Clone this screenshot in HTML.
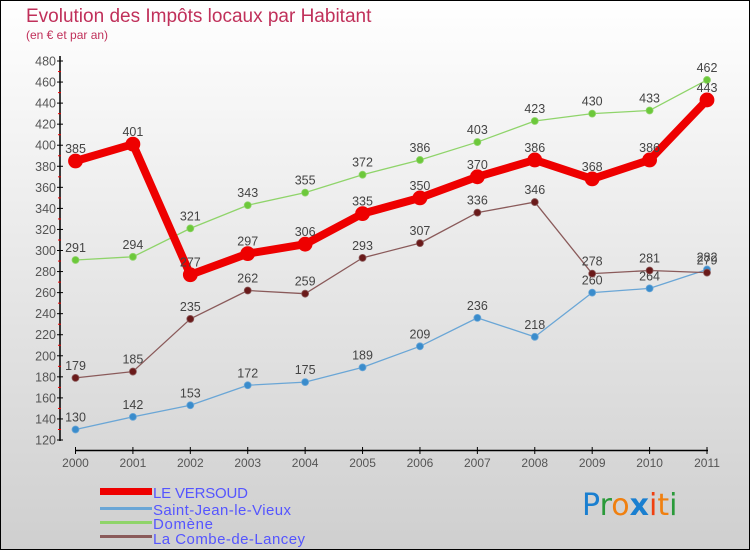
<!DOCTYPE html>
<html><head><meta charset="utf-8"><style>
body{margin:0}
svg{display:block;font-family:"Liberation Sans",sans-serif}
</style></head><body>
<svg id="c" width="750" height="550" xmlns="http://www.w3.org/2000/svg">
<defs><linearGradient id="bg" x1="0" y1="0" x2="0" y2="1"><stop offset="0" stop-color="#ffffff"/><stop offset="1" stop-color="#cfcfcf"/></linearGradient></defs>
<rect x="0.5" y="0.5" width="749" height="549" fill="url(#bg)" stroke="#000"/>
<text x="26" y="22" font-size="19" fill="#c0305a">Evolution des Impôts locaux par Habitant</text>
<text x="26" y="39" font-size="12" fill="#c0305a">(en € et par an)</text>
<g id="axes"></g>
<g id="series"></g>
<g id="legend" font-size="15" fill="#5555ff">
<rect x="100" y="488" width="52" height="7" fill="#ee0000"/>
<text x="153" y="498" fill="#5555ff" textLength="95">LE VERSOUD</text>
<rect x="100" y="507" width="52" height="3" fill="#6aa6d6"/>
<text x="153" y="515" fill="#5555ff" textLength="138">Saint-Jean-le-Vieux</text>
<rect x="100" y="521" width="52" height="3" fill="#8fd46a"/>
<text x="153" y="529" fill="#5555ff" textLength="60">Domène</text>
<rect x="100" y="535" width="52" height="3" fill="#8a5a5a"/>
<text x="153" y="544" fill="#5555ff" textLength="152">La Combe-de-Lancey</text>
</g>
<g font-size="30" font-family="'DejaVu Sans',sans-serif">
<text x="582" y="515"><tspan fill="#1a7fd0">P</tspan><tspan fill="#2a9a3a">r</tspan><tspan fill="#f08010">o</tspan><tspan fill="#1a7fd0" font-weight="bold">x</tspan><tspan fill="#f04010">i</tspan><tspan fill="#f08010">t</tspan><tspan fill="#2a9a3a">i</tspan></text>
</g>
</svg>
<script>
const years=["2000","2001","2002","2003","2004","2005","2006","2007","2008","2009","2010","2011"];
const versoud=[385,401,277,297,306,335,350,370,386,368,386,443];
const saintJean=[130,142,153,172,175,189,209,236,218,260,264,282];
const domene=[291,294,321,343,355,372,386,403,423,430,433,462];
const combe=[179,185,235,262,259,293,307,336,346,278,281,279];
const yTicks=[120,140,160,180,200,220,240,260,280,300,320,340,360,380,400,420,440,460,480];
const NS="http://www.w3.org/2000/svg";
const X=i=>75.5+i*(707-75.5)/11;
const Y=v=>440-(v-120)*(440-61)/360;
function mk(t,a,p){const e=document.createElementNS(NS,t);for(const k in a)e.setAttribute(k,a[k]);p.appendChild(e);return e;}
const ax=document.getElementById('axes');
let l=mk('line',{x1:60,y1:56,x2:60,y2:441,stroke:'#000','stroke-width':1.5},ax);


l=mk('line',{x1:75,y1:450.5,x2:708,y2:450.5,stroke:'#000','stroke-width':1.5},ax);


yTicks.forEach(v=>{const y=Y(v);
mk('line',{x1:57,y1:y,x2:63,y2:y,stroke:'#000'},ax);
if(v<480)mk('line',{x1:58,y1:y-10.5,x2:61,y2:y-10.5,stroke:'#e00'},ax);
const t=mk('text',{x:56,y:y+4.5,'font-size':12.5,'text-anchor':'end',fill:'#555'},ax);t.textContent=v;

});
years.forEach((yr,i)=>{const x=X(i);
mk('line',{x1:x,y1:447,x2:x,y2:454,stroke:'#000'},ax);
const t=mk('text',{x:x,y:467,'font-size':12,'text-anchor':'middle',fill:'#555'},ax);t.textContent=yr;

});
const sg=document.getElementById('series');
function draw(vals,name,color,dot,w,r){
const g=mk('g',{},sg);


mk('polyline',{points:vals.map((v,i)=>X(i)+','+Y(v)).join(' '),fill:'none',stroke:color,'stroke-width':w,'stroke-linejoin':'round'},g);
vals.forEach((v,i)=>{const c=mk('circle',{cx:X(i),cy:Y(v),r:r,fill:dot,stroke:color,'stroke-width':0.8},g);


const t=mk('text',{x:X(i),y:Y(v)-8,'font-size':12.5,'text-anchor':'middle',fill:'#444'},g);t.textContent=v;

});}
draw(saintJean,'saint-jean','#6aa6d6','#3a8ccc',1.3,3.5);
draw(domene,'domene','#8fd46a','#6cc83a',1.3,3.5);
draw(combe,'combe','#8a5a5a','#6a1a1a',1.3,3.5);
draw(versoud,'le-versoud','#ee0000','#ee0000',8,7);
</script>
</body></html>
